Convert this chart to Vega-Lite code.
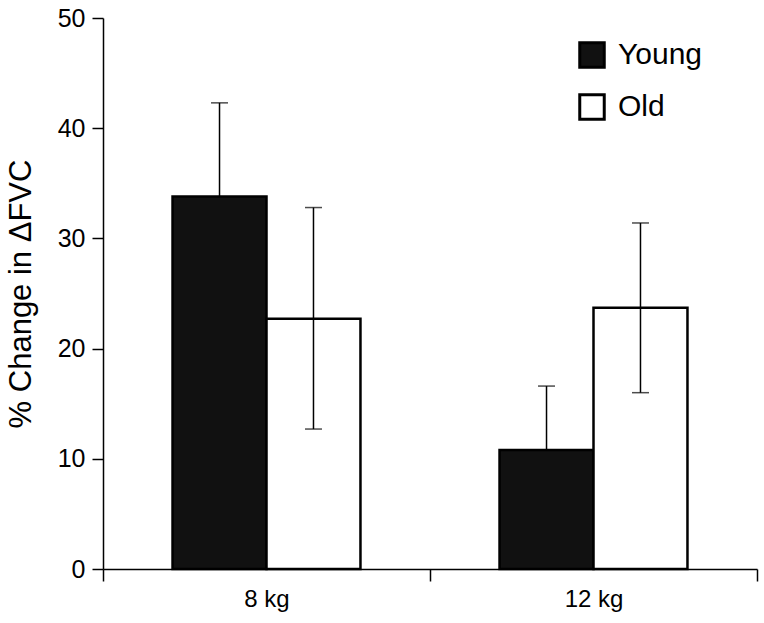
{
  "$schema": "https://vega.github.io/schema/vega-lite/v6.json",
  "width": 654,
  "height": 551,
  "autosize": "none",
  "padding": {"left": 103, "top": 18, "right": 7, "bottom": 54},
  "background": "white",
  "config": {
    "view": {"stroke": null},
    "font": "Liberation Sans",
    "axis": {"grid": false, "domainColor": "black", "tickColor": "black", "labelColor": "black", "titleColor": "black", "domainWidth": 1.5, "tickWidth": 1.5}
  },
  "data": {
    "values": [
      {"weight": "8 kg", "group": "Young", "value": 33.8, "lo": 25.3, "hi": 42.3},
      {"weight": "8 kg", "group": "Old", "value": 22.7, "lo": 12.7, "hi": 32.8},
      {"weight": "12 kg", "group": "Young", "value": 10.8, "lo": 5.0, "hi": 16.6},
      {"weight": "12 kg", "group": "Old", "value": 23.7, "lo": 16.0, "hi": 31.4}
    ]
  },
  "encoding": {
    "x": {
      "field": "weight", "type": "nominal", "sort": ["8 kg", "12 kg"],
      "scale": {"paddingInner": 0, "paddingOuter": 0},
      "axis": {"title": null, "labelAngle": 0, "tickBand": "extent", "tickSize": 12, "labelFontSize": 24, "labelPadding": 6}
    },
    "xOffset": {"field": "group", "type": "nominal", "sort": ["Young", "Old"], "scale": {"paddingInner": 0, "paddingOuter": 0.74}}
  },
  "layer": [
    {
      "mark": {"type": "bar", "stroke": "black", "strokeWidth": 2.5},
      "encoding": {
        "y": {
          "field": "value", "type": "quantitative",
          "scale": {"domain": [0, 50], "nice": false},
          "axis": {"values": [0, 10, 20, 30, 40, 50], "title": "% Change in ΔFVC", "titleFontSize": 31, "titleFontWeight": "normal", "titlePadding": 20, "labelFontSize": 25, "tickSize": 11, "labelPadding": 7}
        },
        "fill": {
          "field": "group", "type": "nominal", "sort": ["Young", "Old"],
          "scale": {"domain": ["Young", "Old"], "range": ["#111111", "white"]},
          "legend": {
            "title": null, "orient": "none", "legendX": 474, "legendY": 22,
            "symbolType": "square", "symbolSize": 600, "symbolStrokeColor": "black", "symbolStrokeWidth": 3,
            "labelFontSize": 30, "labelColor": "black", "labelOffset": 11, "rowPadding": 14
          }
        }
      }
    },
    {
      "transform": [{"filter": "datum.group === 'Old'"}],
      "mark": {"type": "rule", "strokeWidth": 1.5, "color": "black"},
      "encoding": {
        "y": {"field": "lo", "type": "quantitative"},
        "y2": {"field": "hi"}
      }
    },
    {
      "transform": [{"filter": "datum.group === 'Young'"}],
      "mark": {"type": "rule", "strokeWidth": 1.5, "color": "black"},
      "encoding": {
        "y": {"field": "value", "type": "quantitative"},
        "y2": {"field": "hi"}
      }
    },
    {
      "mark": {"type": "tick", "size": 17, "thickness": 1.5, "color": "black", "orient": "horizontal"},
      "encoding": {"y": {"field": "hi", "type": "quantitative"}}
    },
    {
      "transform": [{"filter": "datum.group === 'Old'"}],
      "mark": {"type": "tick", "size": 17, "thickness": 1.5, "color": "black", "orient": "horizontal"},
      "encoding": {"y": {"field": "lo", "type": "quantitative"}}
    }
  ]
}
